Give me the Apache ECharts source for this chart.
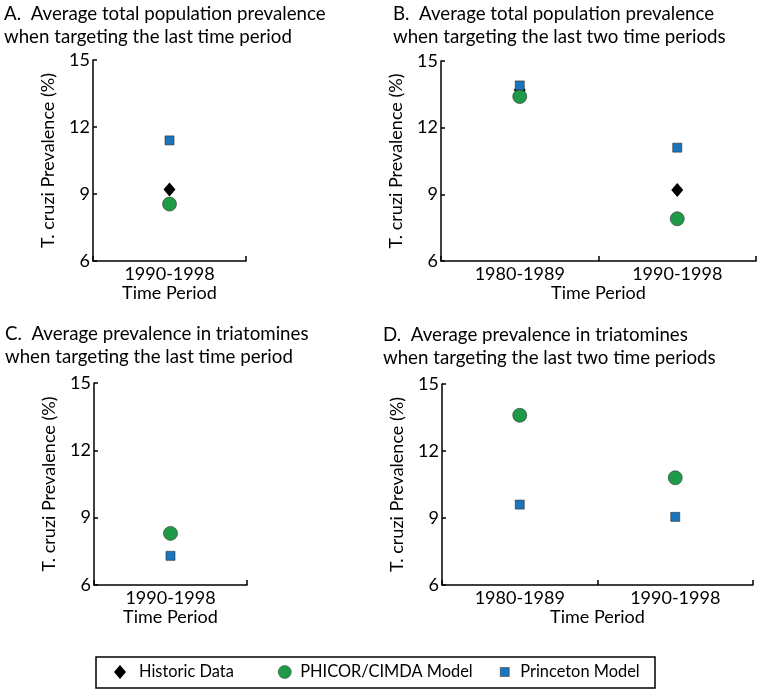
<!DOCTYPE html>
<html>
<head>
<meta charset="utf-8">
<script src="https://cdn.jsdelivr.net/npm/echarts@6/dist/echarts.min.js"></script>
<style>html,body{margin:0;padding:0;background:#fff}#c{width:759px;height:695px}</style>
</head>
<body>
<div id="c"></div>
<script>
// ---- data ----
var categoriesOne = ['1990-1998'];
var categoriesTwo = ['1980-1989', '1990-1998'];
var historicA = [9.2];
var phicorA = [8.55];
var princetonA = [11.4];
var historicB = [13.7, 9.2];
var phicorB = [13.4, 7.9];
var princetonB = [13.9, 11.1];
var phicorC = [8.3];
var princetonC = [7.3];
var phicorD = [13.6, 10.8];
var princetonD = [9.6, 9.05];
var yMin = 6, yMax = 15, yStep = 3;
var titles = [
  'A.  Average total population prevalence\nwhen targeting the last time period',
  'B.  Average total population prevalence\nwhen targeting the last two time periods',
  'C.  Average prevalence in triatomines\nwhen targeting the last time period',
  'D.  Average prevalence in triatomines\nwhen targeting the last two time periods'
];
var yName = 'T. cruzi Prevalence (%)';
var xName = 'Time Period';
var seriesNames = ['Historic Data', 'PHICOR/CIMDA Model', 'Princeton Model'];

// ---- styles ----
var FONT = 'Lato';
var FS = 18;
var LFS = 16.4;
var BLACK = '#000';
var GREEN = '#1f9a48';
var BLUE = '#1b75bc';

var grids = [
  {left: 93, top: 60, width: 153, height: 201},
  {left: 441, top: 61, width: 315, height: 200},
  {left: 94, top: 383, width: 153, height: 202},
  {left: 442, top: 384, width: 311, height: 201}
];
var cats = [categoriesOne, categoriesTwo, categoriesOne, categoriesTwo];

function xAxis(i) {
  return {
    type: 'category', gridIndex: i, data: cats[i], boundaryGap: true,
    name: xName, nameLocation: 'middle', nameGap: 23,
    nameTextStyle: {fontFamily: FONT, fontSize: FS, color: BLACK},
    axisLine: {lineStyle: {color: BLACK, width: 1.5}},
    axisTick: {show: true, inside: true, length: 5, lineStyle: {color: BLACK, width: 1.5}},
    axisLabel: {fontFamily: FONT, fontSize: FS, color: BLACK, margin: 4},
    splitLine: {show: false}
  };
}
function yAxis(i) {
  return {
    type: 'value', gridIndex: i, min: yMin, max: yMax, interval: yStep,
    name: yName, nameLocation: 'middle', nameGap: 36,
    nameTextStyle: {fontFamily: FONT, fontSize: FS, color: BLACK},
    axisLine: {show: true, lineStyle: {color: BLACK, width: 1.5}},
    axisTick: {show: true, inside: true, length: 4, lineStyle: {color: BLACK, width: 1.5}},
    axisLabel: {fontFamily: FONT, fontSize: FS, color: BLACK, margin: 3},
    splitLine: {show: false}
  };
}
function sHist(i, data) {
  return {name: seriesNames[0], type: 'scatter', xAxisIndex: i, yAxisIndex: i, data: data,
    symbol: 'diamond', symbolSize: [12, 14], itemStyle: {color: BLACK, opacity: 1}, z: 2};
}
function sPhicor(i, data) {
  return {name: seriesNames[1], type: 'scatter', xAxisIndex: i, yAxisIndex: i, data: data,
    symbol: 'circle', symbolSize: 14, itemStyle: {color: GREEN, opacity: 1, borderColor: '#2b2b2b', borderWidth: 0.6}, z: 3};
}
function sPrince(i, data) {
  return {name: seriesNames[2], type: 'scatter', xAxisIndex: i, yAxisIndex: i, data: data,
    symbol: 'rect', symbolSize: 9, itemStyle: {color: BLUE, opacity: 1, borderColor: '#2b2b2b', borderWidth: 0.6}, z: 4};
}

var titleLeft = [4, 393, 5, 383];
var titleTop = [2, 2, 322, 323];

var legendCommon = {orient: 'horizontal', padding: 0, selectedMode: false,
  itemStyle: {borderWidth: 0.5}};

var option = {
  animation: false,
  backgroundColor: '#fff',
  title: titles.map(function (t, i) {
    return {text: t, left: titleLeft[i], top: titleTop[i], padding: 0,
      textStyle: {fontFamily: FONT, fontSize: 18.7, fontWeight: 'normal', color: BLACK, lineHeight: 23}};
  }),
  grid: grids,
  xAxis: [0, 1, 2, 3].map(xAxis),
  yAxis: [0, 1, 2, 3].map(yAxis),
  legend: [
    Object.assign({}, legendCommon, {data: [seriesNames[0]], left: 114, top: 664, itemWidth: 12, itemHeight: 14,
      textStyle: {fontFamily: FONT, fontSize: LFS, color: BLACK, padding: [0, 0, 0, 8]}}),
    Object.assign({}, legendCommon, {data: [seriesNames[1]], left: 278, top: 664, itemWidth: 13, itemHeight: 13,
      textStyle: {fontFamily: FONT, fontSize: LFS, color: BLACK, padding: [0, 0, 0, 4]}}),
    Object.assign({}, legendCommon, {data: [seriesNames[2]], left: 500, top: 664, itemWidth: 9, itemHeight: 9,
      textStyle: {fontFamily: FONT, fontSize: LFS, color: BLACK, padding: [0, 0, 0, 6]}})
  ],
  graphic: [{type: 'rect', shape: {x: 96, y: 657, width: 559, height: 31},
    style: {fill: 'none', stroke: BLACK, lineWidth: 1.5}, silent: true}],
  series: [
    sHist(0, historicA), sPhicor(0, phicorA), sPrince(0, princetonA),
    sHist(1, historicB), sPhicor(1, phicorB), sPrince(1, princetonB),
    sPhicor(2, phicorC), sPrince(2, princetonC),
    sPhicor(3, phicorD), sPrince(3, princetonD)
  ]
};
var chart = echarts.init(document.getElementById('c'), null, {renderer: 'canvas'});
chart.setOption(option);
</script>
</body>
</html>
